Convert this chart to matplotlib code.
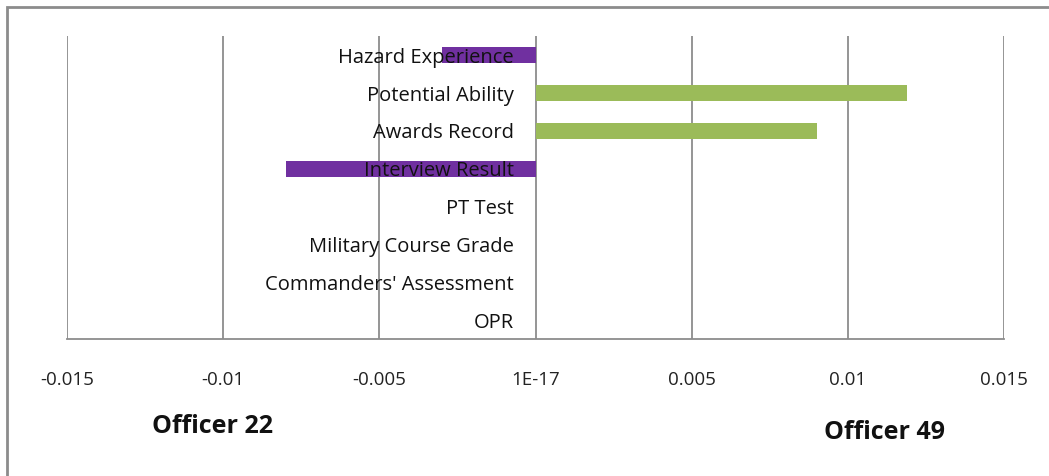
import numpy as np
import matplotlib
matplotlib.use("Agg")
import matplotlib.pyplot as plt
from matplotlib.patches import Rectangle

# Data
categories = ["Hazard Experience", "Potential Ability", "Awards Record",
              "Interview Result", "PT Test", "Military Course Grade",
              "Commanders' Assessment", "OPR"]
values = [-0.003, 0.0119, 0.009, -0.008, 0.0, 0.0, 0.0, 0.0]
tick_vals = [-0.015, -0.01, -0.005, 0.0, 0.005, 0.01, 0.015]
tick_labels = ["-0.015", "-0.01", "-0.005", "1E-17", "0.005", "0.01", "0.015"]
left_name = "Officer 22"
right_name = "Officer 49"

purple = "#7030A0"
green = "#9BBB59"
grid_gray = "#8C8C8C"

plt.rcParams["font.family"] = ["Open Sans", "DejaVu Sans"]

W, H = 1049, 476
fig = plt.figure(figsize=(W / 100, H / 100), dpi=100)
ax = fig.add_axes([67 / W, 1 - 339 / H, (1004 - 67) / W, (339 - 36) / H])

y = np.arange(len(categories))
colors = [purple if v < 0 else green for v in values]
ax.barh(y, values, height=0.42, color=colors, zorder=2)

ax.set_xlim(-0.015, 0.015)
ax.set_ylim(len(categories) - 0.5, -0.5)
ax.set_yticks([])
ax.set_xticks(tick_vals)
ax.set_xticklabels(tick_labels, fontsize=13.5, color="#222222")
ax.tick_params(axis="x", length=0, pad=23)

for xv in tick_vals:
    ax.axvline(xv, color=grid_gray, lw=1.3, zorder=1)

for side in ["top", "right", "left"]:
    ax.spines[side].set_visible(False)
ax.spines["bottom"].set_color(grid_gray)
ax.spines["bottom"].set_linewidth(1.3)

# category labels next to zero, drawn over the bars
for yi, name in zip(y, categories):
    ax.annotate(name, xy=(0, yi), xytext=(-15.8, -5.6), textcoords="offset points",
                ha="right", va="baseline", fontsize=14.5, color="#111111", zorder=3)

fig.text(212 / W, 1 - 433 / H, left_name, ha="center", va="baseline",
         fontsize=18, fontweight="bold", color="#111111")
fig.text(885 / W, 1 - 439 / H, right_name, ha="center", va="baseline",
         fontsize=18, fontweight="bold", color="#111111")

# outer frame (right and bottom fall outside the picture)
fig.patches.append(Rectangle((7 / W, -0.1), 1.2, 1 - 7 / H + 0.1,
                             transform=fig.transFigure, fill=False,
                             edgecolor=grid_gray, lw=2))

fig.savefig("out.png", dpi=100)
